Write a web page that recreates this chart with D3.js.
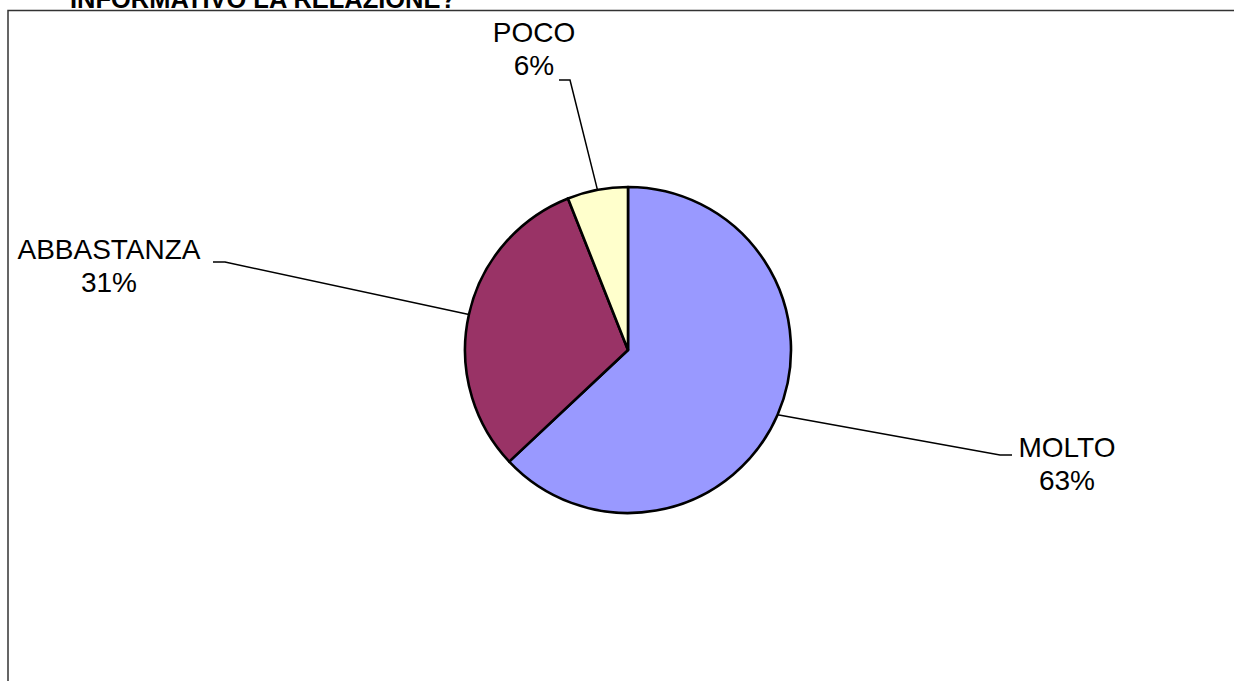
<!DOCTYPE html>
<html>
<head>
<meta charset="utf-8">
<script src="https://cdn.jsdelivr.net/npm/d3@7"></script>
<style>
  html, body { margin: 0; padding: 0; background: #fff; overflow: hidden; }
  text { font-family: "Liberation Sans", Arial, sans-serif; fill: #000; }
</style>
</head>
<body>
<div id="chart"></div>
<script>
// data
const categories = ["MOLTO", "ABBASTANZA", "POCO"];
const values = [63, 31, 6];
const colors = ["#9999FF", "#993366", "#FFFFCC"];
const title = "INFORMATIVO LA RELAZIONE?";

// layout
const width = 1234, height = 681;
const center = { x: 628, y: 350 };
const radius = 163;
// where each label sits: text centre, first baseline, and the little stub of its leader line
const labelPos = [
    { x: 1067, y: 457, stub: [1000, 1012], stubY: 455 },
    { x: 109, y: 259, stub: [225, 213], stubY: 262 },
    { x: 534, y: 42, stub: [570, 559], stubY: 80 }
];

const data = categories.map(function(c, i) {
    return { name: c, value: values[i], color: colors[i], pos: labelPos[i] };
});

const svg = d3.select("#chart")
    .append("svg")
    .attr("width", width)
    .attr("height", height);

// title, mostly cut off by the top edge (as in the original)
svg.append("text")
    .attr("x", 70)
    .attr("y", 8)
    .attr("textLength", 386)
    .attr("lengthAdjust", "spacingAndGlyphs")
    .style("font-size", "26px")
    .style("font-weight", "bold")
    .text(title);

// chart area border
svg.append("rect")
    .attr("x", 8)
    .attr("y", 10.5)
    .attr("width", 1240)
    .attr("height", 700)
    .attr("fill", "none")
    .attr("stroke", "#333")
    .attr("stroke-width", 1.5);

const total = d3.sum(values);
const pie = d3.pie().sort(null).value(function(d) { return d.value; });
const arc = d3.arc().innerRadius(0).outerRadius(radius);
const arcs = pie(data);

const g = svg.append("g")
    .attr("transform", "translate(" + center.x + "," + center.y + ")");

g.selectAll("path.slice")
    .data(arcs)
    .enter()
    .append("path")
    .attr("class", "slice")
    .attr("d", arc)
    .attr("fill", function(d) { return d.data.color; })
    .attr("stroke", "#000")
    .attr("stroke-width", 2.6)
    .attr("stroke-linejoin", "round");

// leader lines from the slice edge to the label stub
function edgePoint(d) {
    const a = (d.startAngle + d.endAngle) / 2;
    return [center.x + radius * Math.sin(a), center.y - radius * Math.cos(a)];
}

svg.selectAll("polyline.leader")
    .data(arcs)
    .enter()
    .append("polyline")
    .attr("class", "leader")
    .attr("points", function(d) {
        const p = d.data.pos;
        const e = edgePoint(d);
        return [e, [p.stub[0], p.stubY], [p.stub[1], p.stubY]].map(function(q) { return q.join(","); }).join(" ");
    })
    .attr("fill", "none")
    .attr("stroke", "#000")
    .attr("stroke-width", 1.5);

const labels = svg.selectAll("text.label")
    .data(arcs)
    .enter()
    .append("text")
    .attr("class", "label")
    .attr("text-anchor", "middle")
    .style("font-size", "28px");

labels.append("tspan")
    .attr("x", function(d) { return d.data.pos.x; })
    .attr("y", function(d) { return d.data.pos.y; })
    .text(function(d) { return d.data.name; });

labels.append("tspan")
    .attr("x", function(d) { return d.data.pos.x; })
    .attr("y", function(d) { return d.data.pos.y + 33; })
    .text(function(d) { return Math.round(d.data.value / total * 100) + "%"; });
</script>
</body>
</html>
